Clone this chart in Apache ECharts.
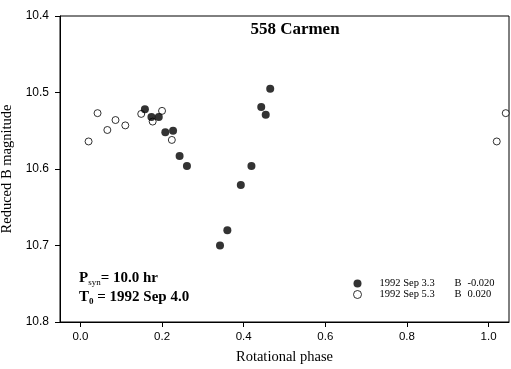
<!DOCTYPE html>
<html>
<head>
<meta charset="utf-8">
<script src="https://cdn.jsdelivr.net/npm/echarts@6/dist/echarts.min.js"></script>
<style>
  html, body { margin: 0; padding: 0; background: #fff; }
  #chart { width: 511px; height: 369px; }
</style>
</head>
<body>
<div id="chart"></div>
<script>
// phase / magnitude
var sep3Phase = [0.158, 0.174, 0.192, 0.208, 0.227, 0.243, 0.261, 0.342, 0.360, 0.393, 0.419, 0.443, 0.454, 0.465]
var sep3Mag   = [10.522, 10.532, 10.532, 10.552, 10.550, 10.583, 10.596, 10.700, 10.680, 10.621, 10.596, 10.519, 10.529, 10.495]
var sep5Phase = [0.020, 0.042, 0.066, 0.086, 0.110, 0.149, 0.177, 0.200, 0.224, 1.020, 1.042]
var sep5Mag   = [10.564, 10.527, 10.549, 10.536, 10.543, 10.528, 10.538, 10.524, 10.562, 10.564, 10.527]
var xTicks = [0, 0.2, 0.4, 0.6, 0.8, 1.0]
var yTicks = [10.4, 10.5, 10.6, 10.7, 10.8]

function pairs(xs, ys) {
  return xs.map(function (x, i) { return [x, ys[i]] })
}

var serif = '"Liberation Serif", "Times New Roman", serif'
var sans = '"Liberation Sans", Arial, sans-serif'

var chart = echarts.init(document.getElementById('chart'))
chart.setOption({
  animation: false,
  backgroundColor: '#fff',
  grid: {
    left: 60, top: 16, right: 2, bottom: 47,
    outerBoundsMode: 'none',
    show: true, borderColor: '#000', borderWidth: 1, backgroundColor: 'transparent'
  },
  title: {
    text: '558 Carmen',
    left: 295, top: 21, textAlign: 'center', padding: 0,
    textStyle: { fontFamily: serif, fontSize: 17, fontWeight: 'bold', color: '#000' }
  },
  legend: {
    orient: 'vertical',
    left: 353, top: 278, padding: 0,
    itemWidth: 8, itemHeight: 8, itemGap: 0,
    data: [
      { name: 'sep3' },
      { name: 'sep5', itemStyle: { color: '#fff', borderColor: '#000', borderWidth: 1 } }
    ],
    formatter: function (name) {
      return name === 'sep3'
        ? '{a|1992 Sep 3.3}{b|B}{c|-0.020}'
        : '{a|1992 Sep 5.3}{b|B}{c|0.020}'
    },
    textStyle: {
      fontFamily: serif, fontSize: 10, lineHeight: 10, color: '#000', padding: [0, 0, 0, 13],
      rich: {
        a: { fontFamily: serif, fontSize: 10.5, width: 75, lineHeight: 10 },
        b: { fontFamily: serif, fontSize: 10.5, width: 13, lineHeight: 10 },
        c: { fontFamily: serif, fontSize: 10.5, lineHeight: 10 }
      }
    }
  },
  xAxis: {
    type: 'value', min: -0.05, max: 1.05,
    name: 'Rotational phase', nameLocation: 'middle', nameGap: 28,
    nameTextStyle: { fontFamily: serif, fontSize: 14.5, color: '#000' },
    splitLine: { show: false },
    axisLine: { onZero: false, lineStyle: { color: '#000' } },
    axisTick: { customValues: xTicks, length: 5, lineStyle: { color: '#000' } },
    axisLabel: {
      customValues: xTicks, margin: 9,
      fontFamily: sans, fontSize: 11.5, color: '#000',
      formatter: function (v) { return v.toFixed(1) }
    }
  },
  yAxis: {
    type: 'value', inverse: true, min: 10.4, max: 10.8,
    name: 'Reduced B magnitude', nameLocation: 'middle', nameGap: 43,
    nameTextStyle: { fontFamily: serif, fontSize: 14.5, color: '#000' },
    splitLine: { show: false },
    axisLine: { onZero: false, lineStyle: { color: '#000' } },
    axisTick: { customValues: yTicks, length: 5, lineStyle: { color: '#000' } },
    axisLabel: {
      customValues: yTicks, margin: 11,
      fontFamily: sans, fontSize: 12, color: '#000',
      formatter: function (v) { return v.toFixed(1) }
    }
  },
  graphic: [
    {
      type: 'text', left: 79, top: 271,
      style: {
        text: '{b|P}{s|syn}{b|= 10.0 hr}',
        rich: {
          b: { fontFamily: serif, fontSize: 15, fontWeight: 'bold', fill: '#000', lineHeight: 17 },
          s: { fontFamily: serif, fontSize: 9, fill: '#000', lineHeight: 17, verticalAlign: 'bottom', padding: [7, 0, 0, 0] }
        }
      }
    },
    {
      type: 'text', left: 79, top: 290,
      style: {
        text: '{b|T}{s|0}{b| = 1992 Sep 4.0}',
        rich: {
          b: { fontFamily: serif, fontSize: 15, fontWeight: 'bold', fill: '#000', lineHeight: 17 },
          s: { fontFamily: serif, fontSize: 9, fontWeight: 'bold', fill: '#000', lineHeight: 17, verticalAlign: 'bottom', padding: [7, 0, 0, 0] }
        }
      }
    }
  ],
  series: [
    {
      name: 'sep5', type: 'scatter', symbol: 'circle', symbolSize: 7,
      itemStyle: { color: '#fff', borderColor: '#000', borderWidth: 1 },
      data: pairs(sep5Phase, sep5Mag)
    },
    {
      name: 'sep3', type: 'scatter', symbol: 'circle', symbolSize: 8,
      itemStyle: { color: '#000' },
      data: pairs(sep3Phase, sep3Mag)
    }
  ]
})
</script>
</body>
</html>
